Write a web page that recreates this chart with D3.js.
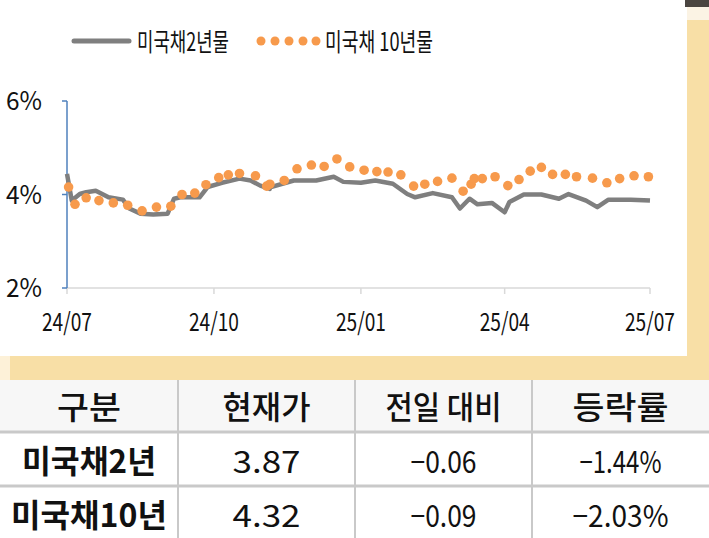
<!DOCTYPE html><html><head><meta charset="utf-8"><script src="https://cdn.jsdelivr.net/npm/d3@7"></script>
<style>body{margin:0;background:#fff}svg{display:block}</style></head><body><svg id="c" width="709" height="538"></svg>
<script>
const tickLabels=["24/07","24/10","25/01","25/04","25/07"];
const tickDays=[0,92,184,274,365];
const yTicks=[2,4,6];
const legendNames=["미국채2년물","미국채 10년물"];
const days2=[0,3,8,12,18,22,26,35,39,46,54,63,67,71,83,88,97,108,115,121,127,126,142,156,167,173,184,193,204,213,218,229,241,246,252,257,266,274,277,286,297,308,314,325,332,339,353,365];
const v2=[4.44,3.87,4.01,4.05,4.08,4.01,3.94,3.89,3.70,3.59,3.57,3.59,3.91,3.94,3.94,4.16,4.25,4.34,4.30,4.19,4.12,4.14,4.30,4.30,4.38,4.27,4.25,4.30,4.23,4.01,3.94,4.03,3.94,3.70,3.91,3.79,3.82,3.62,3.84,4.0,4.0,3.91,4.01,3.87,3.73,3.89,3.89,3.87];
const days10=[1,5,12,20,29,38,47,56,65,72,80,87,95,101,108,118,125,127,136,144,153,161,169,177,186,194,201,209,217,224,232,241,248,253,255,260,268,276,283,290,297,304,312,319,329,338,346,355,364];
const v10=[4.16,3.79,3.93,3.87,3.82,3.77,3.65,3.73,3.75,4.0,4.03,4.21,4.36,4.42,4.45,4.40,4.18,4.22,4.30,4.55,4.63,4.60,4.76,4.59,4.52,4.49,4.48,4.42,4.18,4.22,4.28,4.35,4.07,4.22,4.34,4.34,4.38,4.19,4.32,4.50,4.58,4.43,4.43,4.38,4.35,4.25,4.34,4.40,4.38];
const tableHead=["구분","현재가","전일 대비","등락률"];
const tableRows=[["미국채2년","3.87","−0.06","−1.44%"],["미국채10년","4.32","−0.09","−2.03%"]];

const svg=d3.select("#c");
const F="'Noto Sans CJK KR','Noto Sans',sans-serif";
function txt(xp,yp,s,size,anchor,len,weight){
  const t=svg.append("text").attr("x",xp).attr("y",yp).attr("text-anchor",anchor).attr("font-family",F).attr("font-size",size).attr("font-weight",weight||400).attr("fill","#111").text(s);
  if(len) t.attr("textLength",len).attr("lengthAdjust","spacingAndGlyphs");
  return t;
}
svg.append("rect").attr("x",0).attr("y",0).attr("width",709).attr("height",538).attr("fill","#fff");
svg.append("rect").attr("x",687).attr("y",20).attr("width",22).attr("height",360).attr("fill","#f8dfa6");
svg.append("rect").attr("x",10).attr("y",356).attr("width",699).attr("height",24).attr("fill","#f8dfa6");
svg.append("rect").attr("x",0).attr("y",356).attr("width",10).attr("height",24).attr("fill","#fdf1d8");
svg.append("rect").attr("x",685).attr("y",0).attr("width",24).attr("height",7).attr("fill","#4a4540");
svg.append("rect").attr("x",687).attr("y",7).attr("width",22).attr("height",13).attr("fill","#fbf3e4");

const x=d3.scaleLinear().domain([0,365]).range([67,650]);
const y=d3.scaleLinear().domain([2,6]).range([288,101]);
svg.append("line").attr("x1",67).attr("x2",650).attr("y1",y(2)).attr("y2",y(2)).attr("stroke","#d9d9d9").attr("stroke-width",1.5);
tickDays.forEach((d,i)=>{
  svg.append("line").attr("x1",x(d)).attr("x2",x(d)).attr("y1",y(2)).attr("y2",y(2)+6).attr("stroke","#d9d9d9").attr("stroke-width",1.5);
  txt(x(d),331,tickLabels[i],25,"middle",50);
});
svg.append("line").attr("x1",67).attr("x2",67).attr("y1",y(6)).attr("y2",y(2)).attr("stroke","#4f81bd").attr("stroke-width",1.5);
yTicks.forEach(t=>{
  svg.append("line").attr("x1",62).attr("x2",67).attr("y1",y(t)).attr("y2",y(t)).attr("stroke","#4f81bd").attr("stroke-width",1.5);
  txt(42,y(t)+9,t+"%",25,"end",36);
});
const line=d3.line().x((d,i)=>x(days2[i])).y(d=>y(d));
svg.append("path").datum(v2).attr("d",line).attr("fill","none").attr("stroke","#7f7f7f").attr("stroke-width",4.5).attr("stroke-linejoin","round");
svg.selectAll(".d").data(v10).enter().append("circle").attr("cx",(d,i)=>x(days10[i])).attr("cy",d=>y(d)).attr("r",4.8).attr("fill","#f79a4c");
svg.append("line").attr("x1",74).attr("x2",129).attr("y1",41).attr("y2",41).attr("stroke","#7f7f7f").attr("stroke-width",5).attr("stroke-linecap","round");
txt(137,51,legendNames[0],25,"start",92);
[261,275,289,303,316].forEach(cx=>svg.append("circle").attr("cx",cx).attr("cy",41).attr("r",4.5).attr("fill","#f79a4c"));
txt(325,51,legendNames[1],25,"start",108);
const colX=[0,178,355,532,709], rowY=[380,432,486,538];
svg.append("rect").attr("x",0).attr("y",380).attr("width",709).attr("height",52).attr("fill","#f7f7f7");
[1,2].forEach(r=>svg.append("line").attr("x1",0).attr("x2",709).attr("y1",rowY[r]).attr("y2",rowY[r]).attr("stroke","#c9c9c9").attr("stroke-width",3));
[1,2,3].forEach(c=>svg.append("line").attr("x1",colX[c]).attr("x2",colX[c]).attr("y1",380).attr("y2",538).attr("stroke","#c9c9c9").attr("stroke-width",2));
const headLen=[64,88,116,96];
tableHead.forEach((h,c)=>txt((colX[c]+colX[c+1])/2,419,h,32,"middle",headLen[c],500));
const rowLen=[[134,68,66,82],[156,68,66,96]];
tableRows.forEach((row,r)=>row.forEach((v,c)=>txt((colX[c]+colX[c+1])/2,rowY[r+1]+41,v,c==0?32:30,"middle",rowLen[r][c],c==0?700:400)));
</script></body></html>
